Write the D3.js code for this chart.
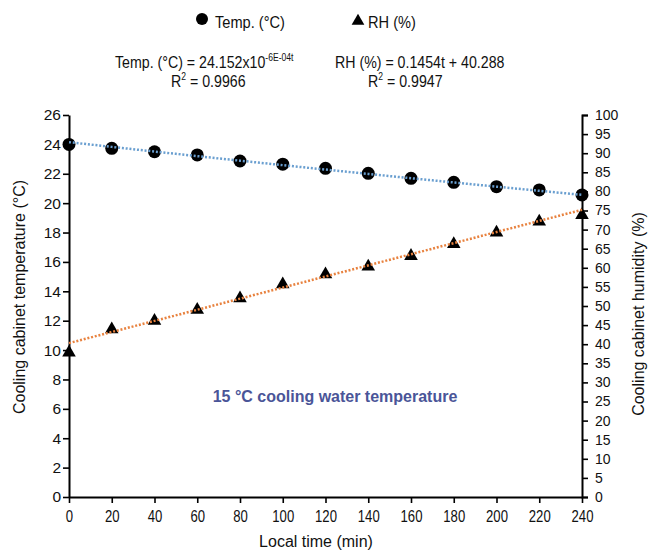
<!DOCTYPE html>
<html>
<head>
<meta charset="utf-8">
<script src="https://cdn.jsdelivr.net/npm/d3@7"></script>
<style>
  body { margin: 0; background: #fff; }
  text { font-family: "Liberation Sans", Arial, sans-serif; fill: #111; }
</style>
</head>
<body>
<div id="chart"></div>
<script>
// Sampling times (min) and measured values
const times = [0, 20, 40, 60, 80, 100, 120, 140, 160, 180, 200, 220, 240];
const tempValues = [24.0, 23.73, 23.5, 23.28, 22.87, 22.65, 22.37, 22.03, 21.69, 21.42, 21.12, 20.9, 20.56];
const rhValues = [37.8, 43.9, 46.1, 49.0, 52.0, 55.7, 58.3, 60.3, 63.1, 66.2, 69.2, 72.1, 73.8];

// Fit parameters for the trend lines
const tempFit = { a: 24.152, k: -6.7e-4 };
const rhFit = { slope: 0.1454, intercept: 40.288 };

const xTicks = d3.range(0, 241, 20);
const tempTicks = d3.range(0, 27, 2);
const rhTicks = d3.range(0, 101, 5);

const width = 648;
const height = 551;
const margin = { top: 115, right: 66, bottom: 54, left: 69 };

// the original uses a condensed face; squeeze text horizontally to mimic it
const narrow = 0.86;

const svg = d3.select("#chart").append("svg")
    .attr("width", width)
    .attr("height", height);

const x = d3.scaleLinear().domain([0, 240]).range([margin.left, width - margin.right]);
const yTemp = d3.scaleLinear().domain([0, 26]).range([height - margin.bottom, margin.top]);
const yRh = d3.scaleLinear().domain([0, 100]).range([height - margin.bottom, margin.top]);

// Axes
const xAxis = svg.append("g")
    .attr("transform", `translate(0,${height - margin.bottom})`)
    .call(d3.axisBottom(x).tickValues(xTicks).tickSize(6).tickPadding(6).tickSizeOuter(0));

const leftAxis = svg.append("g")
    .attr("transform", `translate(${margin.left},0)`)
    .call(d3.axisLeft(yTemp).tickValues(tempTicks).tickSize(6).tickPadding(2).tickSizeOuter(0));

const rightAxis = svg.append("g")
    .attr("transform", `translate(${width - margin.right},0)`)
    .call(d3.axisRight(yRh).tickValues(rhTicks).tickSize(6).tickPadding(7).tickSizeOuter(6));

[xAxis, leftAxis, rightAxis].forEach(g => {
    g.select(".domain").attr("stroke", "#000").attr("stroke-width", 2);
    g.selectAll(".tick line").attr("stroke", "#000").attr("stroke-width", 1.6);
    g.selectAll(".tick text").attr("fill", "#111")
        .style("font-family", '"Liberation Sans", Arial, sans-serif');
});
xAxis.selectAll(".tick text").style("font-size", "16px").attr("dy", "0.8em")
    .attr("transform", "scale(0.82,1)");
leftAxis.selectAll(".tick text").style("font-size", "15.5px");
rightAxis.selectAll(".tick text").style("font-size", "14px");

// Markers
svg.append("g")
    .selectAll("circle")
    .data(times)
    .join("circle")
    .attr("cx", d => x(d))
    .attr("cy", (d, i) => yTemp(tempValues[i]))
    .attr("r", 6.5)
    .attr("fill", "#000");

const tri = d3.symbol().type(d3.symbolTriangle).size(80);
svg.append("g")
    .selectAll("path")
    .data(times)
    .join("path")
    .attr("d", tri)
    .attr("transform", (d, i) => `translate(${x(d)},${yRh(rhValues[i])})`)
    .attr("fill", "#000");

// Trend lines (drawn over markers)
const fitT = d3.range(0, 241, 5);
svg.append("path")
    .datum(fitT)
    .attr("fill", "none")
    .attr("stroke", "#6a9fd0")
    .attr("stroke-width", 2.5)
    .attr("stroke-dasharray", "2,1.8")
    .attr("d", d3.line().x(t => x(t)).y(t => yTemp(tempFit.a * Math.exp(tempFit.k * t))));

svg.append("path")
    .datum([0, 240])
    .attr("fill", "none")
    .attr("stroke", "#e8823f")
    .attr("stroke-width", 2.5)
    .attr("stroke-dasharray", "2,1.8")
    .attr("d", d3.line().x(t => x(t)).y(t => yRh(rhFit.slope * t + rhFit.intercept)));

// helper for squeezed text placed at (px, py)
function label(px, py, size) {
    return svg.append("text")
        .attr("transform", `translate(${px},${py}) scale(${narrow},1)`)
        .style("font-size", size + "px");
}

// Legend
svg.append("circle").attr("cx", 202).attr("cy", 19).attr("r", 6).attr("fill", "#000");
label(215, 28, 17).text("Temp. (°C)");
svg.append("path").attr("d", d3.symbol().type(d3.symbolTriangle).size(70))
    .attr("transform", "translate(358,21)").attr("fill", "#000");
label(368, 28, 17).text("RH (%)");

// Fit equations
const eq1 = label(115, 68, 16.5);
eq1.append("tspan").text("Temp. (°C) = 24.152x10");
eq1.append("tspan").attr("dy", -7).style("font-size", "10px").text("-6E-04t");

const r1 = label(171, 87, 16.5);
r1.append("tspan").text("R");
r1.append("tspan").attr("dy", -7).style("font-size", "10px").text("2");
r1.append("tspan").attr("dy", 7).text(" = 0.9966");

label(335, 68, 16.5).text("RH (%) = 0.1454t + 40.288");

const r2 = label(368, 87, 16.5);
r2.append("tspan").text("R");
r2.append("tspan").attr("dy", -7).style("font-size", "10px").text("2");
r2.append("tspan").attr("dy", 7).text(" = 0.9947");

// Annotation
svg.append("text")
    .attr("x", 335).attr("y", 402)
    .attr("text-anchor", "middle")
    .style("font-size", "16px")
    .style("font-weight", "bold")
    .style("fill", "#4a5598")
    .text("15 °C cooling water temperature");

// Axis titles
svg.append("text")
    .attr("text-anchor", "middle")
    .attr("transform", "translate(25,297) rotate(-90)")
    .style("font-size", "16px")
    .text("Cooling cabinet temperature (°C)");

svg.append("text")
    .attr("text-anchor", "middle")
    .attr("transform", "translate(644,314) rotate(-90)")
    .style("font-size", "16px")
    .text("Cooling cabinet humidity (%)");

svg.append("text")
    .attr("text-anchor", "middle")
    .attr("x", 316).attr("y", 547)
    .style("font-size", "16px")
    .text("Local time (min)");
</script>
</body>
</html>
